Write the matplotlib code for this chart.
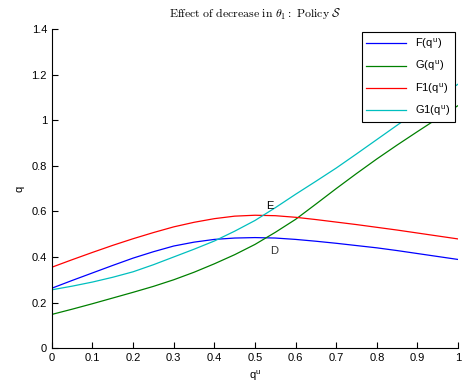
import numpy as np
import matplotlib.pyplot as plt

# Data
q_u = [0.00, 0.05, 0.10, 0.15, 0.20, 0.25, 0.30, 0.35, 0.40, 0.45, 0.50,
       0.55, 0.60, 0.65, 0.70, 0.75, 0.80, 0.85, 0.90, 0.95, 1.00]
F_vals = [0.263, 0.297, 0.330, 0.363, 0.395, 0.423, 0.448, 0.465, 0.477, 0.483, 0.485,
          0.483, 0.477, 0.469, 0.460, 0.450, 0.440, 0.428, 0.415, 0.402, 0.389]
G_vals = [0.148, 0.171, 0.195, 0.220, 0.245, 0.271, 0.300, 0.333, 0.370, 0.410, 0.455,
          0.508, 0.565, 0.632, 0.700, 0.766, 0.830, 0.891, 0.950, 1.008, 1.064]
F1_vals = [0.355, 0.388, 0.420, 0.451, 0.480, 0.507, 0.532, 0.552, 0.568, 0.579, 0.583,
           0.581, 0.574, 0.564, 0.553, 0.542, 0.530, 0.518, 0.505, 0.492, 0.479]
G1_vals = [0.256, 0.272, 0.290, 0.311, 0.335, 0.366, 0.400, 0.434, 0.470, 0.513, 0.560,
           0.616, 0.675, 0.732, 0.790, 0.852, 0.915, 0.978, 1.040, 1.100, 1.158]
labels = ["F(q$^{\\mathregular{u}}$)", "G(q$^{\\mathregular{u}}$)",
          "F1(q$^{\\mathregular{u}}$)", "G1(q$^{\\mathregular{u}}$)"]
x_ticks = [0, 0.1, 0.2, 0.3, 0.4, 0.5, 0.6, 0.7, 0.8, 0.9, 1]
x_tick_labels = ["0", "0.1", "0.2", "0.3", "0.4", "0.5", "0.6", "0.7", "0.8", "0.9", "1"]
y_ticks = [0, 0.2, 0.4, 0.6, 0.8, 1.0, 1.2, 1.4]
y_tick_labels = ["0", "0.2", "0.4", "0.6", "0.8", "1", "1.2", "1.4"]

plt.rcParams['font.family'] = ['Liberation Sans', 'DejaVu Sans']
plt.rcParams['mathtext.fontset'] = 'cm'

# Create Figure
figure_1 = plt.figure(figsize=(4.67, 3.86), dpi=100)
axis_1 = figure_1.add_axes([0.111, 0.098, 0.870, 0.827])

colours = [(0, 0, 1), (0, 0.5, 0), (1, 0, 0), (0, 0.75, 0.75)]
for series, label, colour in zip([F_vals, G_vals, F1_vals, G1_vals], labels, colours):
    axis_1.plot(q_u, series, color=colour, linewidth=0.9, label=label)

# Point labels
axis_1.text(0.537, 0.625, "E", fontsize=8, ha="center", va="center")
axis_1.text(0.547, 0.428, "D", fontsize=8, ha="center", va="center", color="#333333")

# Axes styling (box off, inward ticks)
axis_1.spines[['right', 'top']].set_visible(False)
axis_1.set_xlim(0, 1)
axis_1.set_ylim(0, 1.4)
axis_1.set_xticks(x_ticks)
axis_1.set_xticklabels(x_tick_labels)
axis_1.set_yticks(y_ticks)
axis_1.set_yticklabels(y_tick_labels)
axis_1.tick_params(direction="in", length=4, labelsize=8, width=0.8)

# Set Labels
axis_1.set_xlabel("q$^{\\mathregular{u}}$", fontsize=8, labelpad=4)
axis_1.set_ylabel("q", fontsize=8, labelpad=5)
axis_1.set_title("$\\mathrm{Effect\\ of\\ decrease\\ in\\ }\\theta_1\\mathrm{:\\ Policy\\ }\\mathcal{S}$",
                 fontsize=8.5, pad=8)

legend = axis_1.legend(loc="upper right", fontsize=8, fancybox=False, framealpha=1,
                       edgecolor="black", handlelength=3.6, borderaxespad=0.3,
                       labelspacing=0.7)
legend.get_frame().set_linewidth(0.8)

plt.savefig("out.png", dpi=100)
plt.close()
